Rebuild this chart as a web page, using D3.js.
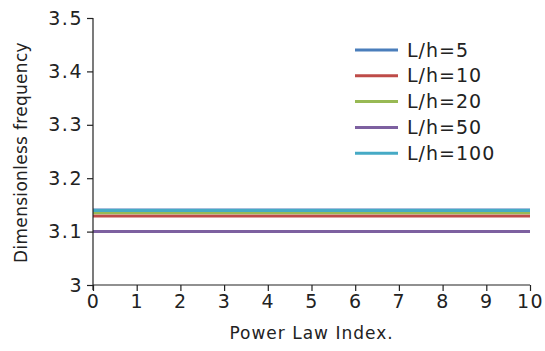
<!DOCTYPE html>
<html>
<head>
<meta charset="utf-8">
<script src="https://cdn.jsdelivr.net/npm/d3@7"></script>
<style>
  body { margin: 0; background: #fff; }
  text { font-family: "DejaVu Sans", sans-serif; fill: #222; }
</style>
</head>
<body>
<div class="chart"></div>
<script>
  // power law index values along x
  let powerIndex = [0, 1, 2, 3, 4, 5, 6, 7, 8, 9, 10];

  let seriesNames = ["L/h=5", "L/h=10", "L/h=20", "L/h=50", "L/h=100"];
  let seriesColors = ["#4a7ebb", "#be4b48", "#98b954", "#7d60a0", "#46aac5"];

  // frequencies stay flat over the index
  let freq5 = [3.1405, 3.1405, 3.1405, 3.1405, 3.1405, 3.1405, 3.1405, 3.1405, 3.1405, 3.1405, 3.1405];
  let freq10 = [3.129, 3.129, 3.129, 3.129, 3.129, 3.129, 3.129, 3.129, 3.129, 3.129, 3.129];
  let freq20 = [3.1355, 3.1355, 3.1355, 3.1355, 3.1355, 3.1355, 3.1355, 3.1355, 3.1355, 3.1355, 3.1355];
  let freq50 = [3.1, 3.1, 3.1, 3.1, 3.1, 3.1, 3.1, 3.1, 3.1, 3.1, 3.1];
  let freq100 = [3.1395, 3.1395, 3.1395, 3.1395, 3.1395, 3.1395, 3.1395, 3.1395, 3.1395, 3.1395, 3.1395];

  let yTicks = [3, 3.1, 3.2, 3.3, 3.4, 3.5];

  let series = [freq5, freq10, freq20, freq50, freq100].map((vals, i) => ({
    name: seriesNames[i],
    color: seriesColors[i],
    values: vals.map((v, j) => ({x: powerIndex[j], y: v}))
  }));

  let margin = { top: 18, right: 15, left: 93, bottom: 66 };
  let width = 545 - margin.left - margin.right;
  let height = 351 - margin.top - margin.bottom;

  let svg = d3.select('.chart')
    .append('svg')
      .attr('width', 545)
      .attr('height', 351)
    .append('g')
      .attr('transform', `translate(${margin.left}, ${margin.top})`);

  let xScale = d3.scaleLinear().domain([0, 10]).range([0, width]);
  let yScale = d3.scaleLinear().domain([3, 3.5]).range([height, 0]);

  let line = d3.line().x(d => xScale(d.x)).y(d => yScale(d.y));

  // draw bottom series first so the drawing order matches
  let drawOrder = [3, 1, 2, 0, 4];
  svg.selectAll('.series')
    .data(drawOrder.map(i => series[i]))
    .enter()
    .append('path')
      .attr('class', 'series')
      .attr('d', d => line(d.values))
      .style('fill', 'none')
      .style('stroke', d => d.color)
      .style('stroke-width', 3);

  let yAxis = d3.axisLeft(yScale)
    .tickValues(yTicks)
    .tickSize(6).tickPadding(4)
    .tickFormat(d => d3.format('')(d));
  let gy = svg.append('g').call(yAxis);
  gy.select('.domain').attr('d', `M0,${height + 5}V0`);

  let xAxis = d3.axisBottom(xScale)
    .tickValues(powerIndex)
    .tickSize(6).tickPadding(4)
    .tickFormat(d3.format('d'));
  let gx = svg.append('g')
    .attr('transform', `translate(0, ${height})`)
    .call(xAxis);
  gx.select('.domain').attr('d', `M0,0H${width}`);

  [gx, gy].forEach(g => {
    g.selectAll('line').style('stroke', '#222').style('stroke-width', 1.2);
    g.select('.domain').style('stroke', '#222').style('stroke-width', 1.2);
    g.selectAll('text').style('font-size', '19px').style('fill', '#222')
      .style('letter-spacing', '1.5px');
  });

  svg.append('text')
    .attr('x', width / 2)
    .attr('y', height + 54)
    .attr('text-anchor', 'middle')
    .style('font-size', '17px')
    .style('letter-spacing', '1px')
    .text('Power Law Index.');

  svg.append('text')
    .attr('transform', `translate(${-66}, ${height / 2 + 1}) rotate(-90)`)
    .attr('text-anchor', 'middle')
    .style('font-size', '17px')
    .style('letter-spacing', '0.3px')
    .text('Dimensionless frequency');

  // legend
  let legend = svg.append('g').attr('transform', 'translate(262, 32)');
  let rows = legend.selectAll('g')
    .data(series)
    .enter()
    .append('g')
      .attr('transform', (d, i) => `translate(0, ${i * 25.8})`);
  rows.append('line')
    .attr('x1', 0).attr('x2', 43)
    .style('stroke', d => d.color)
    .style('stroke-width', 3);
  rows.append('text')
    .attr('x', 52)
    .attr('dy', '0.35em')
    .style('font-size', '19px')
    .style('letter-spacing', '1px')
    .text(d => d.name);
</script>
</body>
</html>
